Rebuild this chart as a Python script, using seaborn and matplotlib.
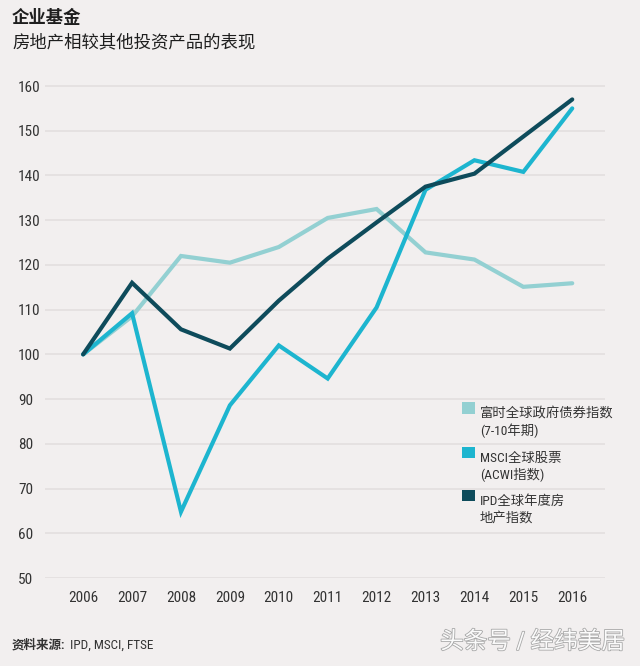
import matplotlib
matplotlib.use("Agg")
import matplotlib.pyplot as plt
import matplotlib.patheffects as pe
from matplotlib.patches import Patch, Rectangle
from matplotlib.legend_handler import HandlerPatch
from matplotlib import font_manager
import seaborn as sns
import pandas as pd

years = [2006, 2007, 2008, 2009, 2010, 2011, 2012, 2013, 2014, 2015, 2016]
bond = [100, 108.5, 122, 120.5, 124, 130.5, 132.5, 122.8, 121.2, 115.1, 115.9]
msci = [100, 109.2, 64.8, 88.6, 102, 94.6, 110.5, 136.8, 143.4, 140.8, 155.0]
ipd = [100, 116, 105.6, 101.3, 112, 121.4, 129.5, 137.5, 140.4, 148.7, 157.0]

series_names = ["富时全球政府债券指数\n(7-10年期)", "MSCI全球股票\n(ACWI指数)", "IPD全球年度房\n地产指数"]
colors = ["#93d0d2", "#1db5cf", "#0e4b5b"]
yticks = [50, 60, 70, 80, 90, 100, 110, 120, 130, 140, 150, 160]

title = "企业基金"
subtitle = "房地产相较其他投资产品的表现"
source_bold = "资料来源:"
source_rest = "IPD, MSCI, FTSE"
watermark = "头条号 / 经纬美居"

df = pd.DataFrame({
    "year": years * 3,
    "value": bond + msci + ipd,
    "series": [series_names[0]] * len(years) + [series_names[1]] * len(years) + [series_names[2]] * len(years),
})

sns.set_theme(style="white")
installed = {f.name for f in font_manager.fontManager.ttflist}
narrow = [n for n in ["Liberation Sans Narrow", "DejaVu Sans Condensed", "Roboto Condensed"] if n in installed]
plt.rcParams["font.family"] = narrow[:1] + ["Noto Sans CJK SC", "DejaVu Sans"]
stretch = "normal"
if not narrow:
    stretch = "condensed"
    plt.rcParams["font.family"] = ["DejaVu Sans", "Noto Sans CJK SC"]
plt.rcParams["font.stretch"] = stretch
bg = "#f2efef"

fig = plt.figure(figsize=(6.4, 6.66), dpi=100, facecolor=bg)
ax = fig.add_axes([45 / 640, 88 / 666, 560 / 640, (578 - 79.3) / 666])
ax.set_facecolor(bg)

sns.lineplot(data=df, x="year", y="value", hue="series", palette=colors,
             hue_order=series_names, linewidth=3.0, ax=ax, legend=False,
             solid_capstyle="round", solid_joinstyle="miter")

ax.set_xlim(2005.22, 2016.67)
ax.set_ylim(50, 161.5)
ax.set_xticks(years)
ax.set_xticklabels([str(y) for y in years], fontsize=11, color="#333333")
ax.set_yticks(yticks)
ax.set_yticklabels([str(v) for v in yticks], fontsize=11, color="#333333")
for lab in ax.get_yticklabels():
    lab.set_horizontalalignment("left")
ax.tick_params(axis="y", length=0, pad=19.4)
ax.tick_params(axis="x", direction="inout", length=8, width=0.8, color="#9a9a9a", pad=5)
ax.set_xlabel("")
ax.set_ylabel("")
for s in ax.spines.values():
    s.set_visible(False)
ax.grid(axis="y", color="#e3dfdf", linewidth=1.2)
ax.grid(axis="x", visible=False)
ax.set_axisbelow(True)

LS = 1.3


def make_rect(legend, orig_handle, xdescent, ydescent, width, height, fontsize):
    shift = fontsize * LS
    return Rectangle((-xdescent, -ydescent + shift - 2), width, height)


handles = [Patch(facecolor=c, edgecolor="none") for c in colors]
leg = ax.legend(handles, series_names, loc="upper left",
                bbox_to_anchor=(462 / 640, 1 - 407 / 666), bbox_transform=fig.transFigure,
                frameon=False, borderpad=0, borderaxespad=0, fontsize=9.6,
                handlelength=1.0, handleheight=1.0, handletextpad=0.35,
                labelspacing=1.0,
                handler_map={Patch: HandlerPatch(patch_func=make_rect)})
for t in leg.get_texts():
    t.set_linespacing(LS)
    t.set_color("#333333")

fig.text(12 / 640, 1 - 17 / 666, title, fontsize=12.5, fontweight="bold",
         color="#1e1e1e", va="center", ha="left")
fig.text(12 / 640, 1 - 42 / 666, subtitle, fontsize=12.5,
         color="#1e1e1e", va="center", ha="left")
fig.text(12 / 640, 1 - 645 / 666, source_bold, fontsize=9, fontweight="bold",
         color="#333333", va="center", ha="left")
fig.text(70 / 640, 1 - 645 / 666, source_rest, fontsize=9.5,
         color="#333333", va="center", ha="left")
fig.text(625 / 640, 1 - 642 / 666, watermark, fontsize=17, color="#fbfbfb",
         va="center", ha="right",
         path_effects=[pe.withStroke(linewidth=1.2, foreground="#a8a8a8")])

fig.savefig("out.png", dpi=100, facecolor=bg)
